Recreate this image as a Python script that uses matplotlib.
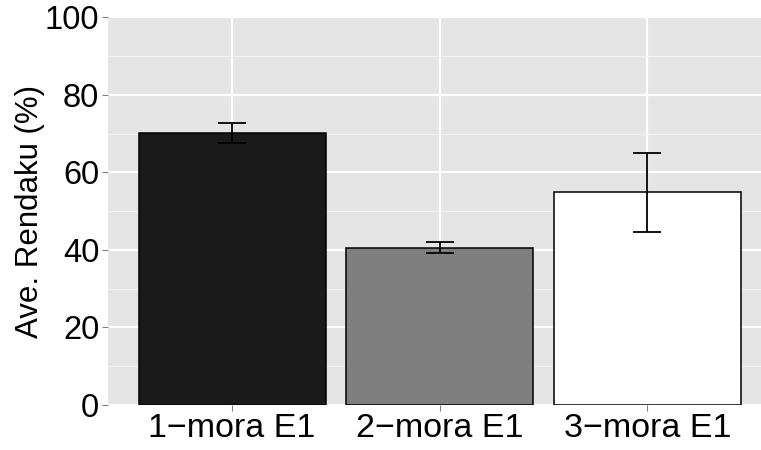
import matplotlib
matplotlib.use("Agg")
import matplotlib.pyplot as plt
import numpy as np

# mean rendaku rate per E1 length, with error half-widths
groups = ["1\u2212mora E1", "2\u2212mora E1", "3\u2212mora E1"]
means = [70.1, 40.6, 54.9]
errors = [2.6, 1.45, 10.2]
fills = ["#1a1a1a", "#7f7f7f", "#ffffff"]

plt.rcParams["font.family"] = ["Liberation Sans", "DejaVu Sans"]

fig = plt.figure(figsize=(7.61, 4.50), dpi=100)
ax = fig.add_axes([107.5 / 761, 45 / 450, 664.5 / 761, 387.7 / 450])
ax.set_facecolor("#e5e5e5")

x = np.arange(1, len(groups) + 1)

# grid, ggplot style
for v in range(10, 100, 20):
    ax.axhline(v, color="#f2f2f2", lw=0.8, zorder=0)
for v in range(0, 101, 20):
    ax.axhline(v, color="white", lw=1.6, zorder=0)
for xi in x:
    ax.axvline(xi, color="white", lw=1.6, zorder=0)

ax.bar(x, means, width=0.9, color=fills, edgecolor="black", linewidth=1.1, zorder=2)
ax.errorbar(x, means, yerr=errors, fmt="none", ecolor="black", elinewidth=1.3,
            capsize=10, capthick=1.3, zorder=3)

ax.set_xlim(0.4, 3.6)
ax.set_ylim(0, 100)
ax.set_yticks(range(0, 101, 20))
ax.set_xticks(x)
ax.set_xticklabels(groups)
ax.tick_params(axis="both", length=4, width=0.8, color="#7f7f7f",
               labelcolor="black", pad=2)
ax.tick_params(axis="y", labelsize=23.5)
ax.tick_params(axis="x", labelsize=24.5)
ax.set_ylabel("Ave. Rendaku (%)", fontsize=22.5, labelpad=0)

for s in ax.spines.values():
    s.set_visible(False)

fig.savefig("out.png", dpi=100)
